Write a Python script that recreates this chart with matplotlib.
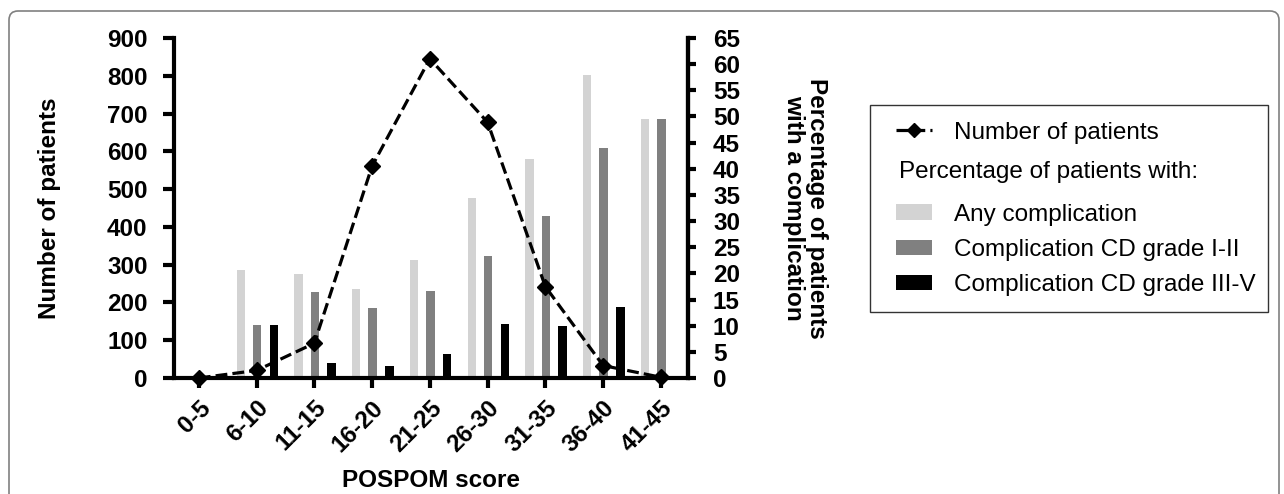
import matplotlib
matplotlib.use('Agg')
import matplotlib.pyplot as plt
import numpy as np
from matplotlib.patches import Rectangle, FancyBboxPatch
from matplotlib.lines import Line2D
from matplotlib.transforms import IdentityTransform

plt.rcParams['font.family'] = ['Liberation Sans', 'DejaVu Sans']

# POSPOM score groups
categories = ['0-5', '6-10', '11-15', '16-20', '21-25', '26-30', '31-35', '36-40', '41-45']

# Number of patients (left axis)
n_patients = [0, 20, 92, 561, 845, 677, 242, 33, 2]

# Percentage of patients with a complication (right axis)
pct_any = [0, 20.7, 19.8, 17.1, 22.5, 34.4, 41.9, 57.9, 49.6]
pct_grade_1_2 = [0, 10.2, 16.5, 13.4, 16.6, 23.3, 31.0, 44.0, 49.6]
pct_grade_3_5 = [0, 10.2, 2.9, 2.2, 4.6, 10.3, 9.9, 13.6, 0]

W, H = 1284, 494
fig = plt.figure(figsize=(W / 100, H / 100), dpi=100)
ax = fig.add_axes([174 / W, 1 - 378 / H, (688 - 174) / W, (378 - 38) / H])
ax2 = ax.twinx()
ax.set_zorder(ax2.get_zorder() + 1)
ax.patch.set_visible(False)

x = np.arange(len(categories))
bw = 0.145
ax2.bar(x - 0.275, pct_any, bw, color='#d3d3d3', label='Any complication')
ax2.bar(x + 0.01, pct_grade_1_2, bw, color='#808080', label='Complication CD grade I-II')
ax2.bar(x + 0.3, pct_grade_3_5, bw, color='#000000', label='Complication CD grade III-V')

ax.plot(x, n_patients, linestyle='--', color='black', lw=2.3, marker='D',
        markersize=8.5, label='Number of patients', clip_on=False)

ax.set_xlim(-0.43, 8.47)
ax.set_ylim(0, 900)
ax2.set_ylim(0, 65)
ax.set_yticks(np.arange(0, 901, 100))
ax2.set_yticks(np.arange(0, 66, 5))
ax.set_xticks(x)
ax.set_xticklabels(categories, rotation=45, ha='right', va='top',
                   rotation_mode='anchor', fontsize=17.5, fontweight='bold')

for a in (ax, ax2):
    a.spines['top'].set_visible(False)
    for s in ['left', 'right', 'bottom']:
        a.spines[s].set_linewidth(3)
ax2.spines['left'].set_visible(False)
ax2.spines['bottom'].set_visible(False)

ax.tick_params(axis='y', length=8, width=3, pad=11, labelsize=17.5)
ax.tick_params(axis='x', length=7, width=3, pad=6)
ax2.tick_params(axis='y', length=6, width=3, pad=12, labelsize=17.5)
for lab in ax.get_yticklabels() + ax2.get_yticklabels():
    lab.set_fontweight('bold')

ax.set_ylabel('Number of patients', fontsize=17.5, fontweight='bold',
              ha='center', va='center')
ax.yaxis.set_label_coords(-0.243, 0.5)
ax2.set_ylabel('Percentage of patients\nwith a complication', fontsize=17.5,
               fontweight='bold', rotation=270, ha='center', va='center',
               linespacing=1.0)
ax2.yaxis.set_label_coords(1.2276, 0.5)
ax.set_xlabel('POSPOM score', fontsize=17.5, fontweight='bold', va='bottom')
ax.xaxis.set_label_coords(0.5, -(492 - 378) / 340)

# legend box drawn by hand: line entry, caption, then the three bar entries
fs = 17.5
line_h = Line2D([], [], linestyle='--', color='black', lw=2.3, marker='D', markersize=7)
leg1 = fig.legend([line_h], ['Number of patients'], loc='center left',
                  bbox_to_anchor=(896 / W, 1 - 133 / H), frameon=False, fontsize=fs,
                  borderpad=0, borderaxespad=0, handlelength=1.48, handletextpad=0.9,
                  numpoints=1)
fig.text(899 / W, 1 - 172 / H, 'Percentage of patients with:', fontsize=fs, va='center')
bar_handles, bar_labels = ax2.get_legend_handles_labels()
leg2 = fig.legend(bar_handles, bar_labels, loc='center left',
                  bbox_to_anchor=(896 / W, 1 - 250 / H), frameon=False, fontsize=fs,
                  borderpad=0, borderaxespad=0, handlelength=1.48, handleheight=0.58,
                  handletextpad=0.9, labelspacing=0.55)

fig.patches.append(Rectangle((870, H - 312), 1268 - 870, 312 - 105, fill=False,
                             edgecolor='#333333', lw=1.0, transform=IdentityTransform()))
fig.patches.append(FancyBboxPatch((9, -30), 1279 - 9, H - 11 + 30,
                                  boxstyle='round,pad=0,rounding_size=9', fill=False,
                                  edgecolor='#808080', lw=1.2, transform=IdentityTransform()))

fig.savefig('out.png', dpi=100)
